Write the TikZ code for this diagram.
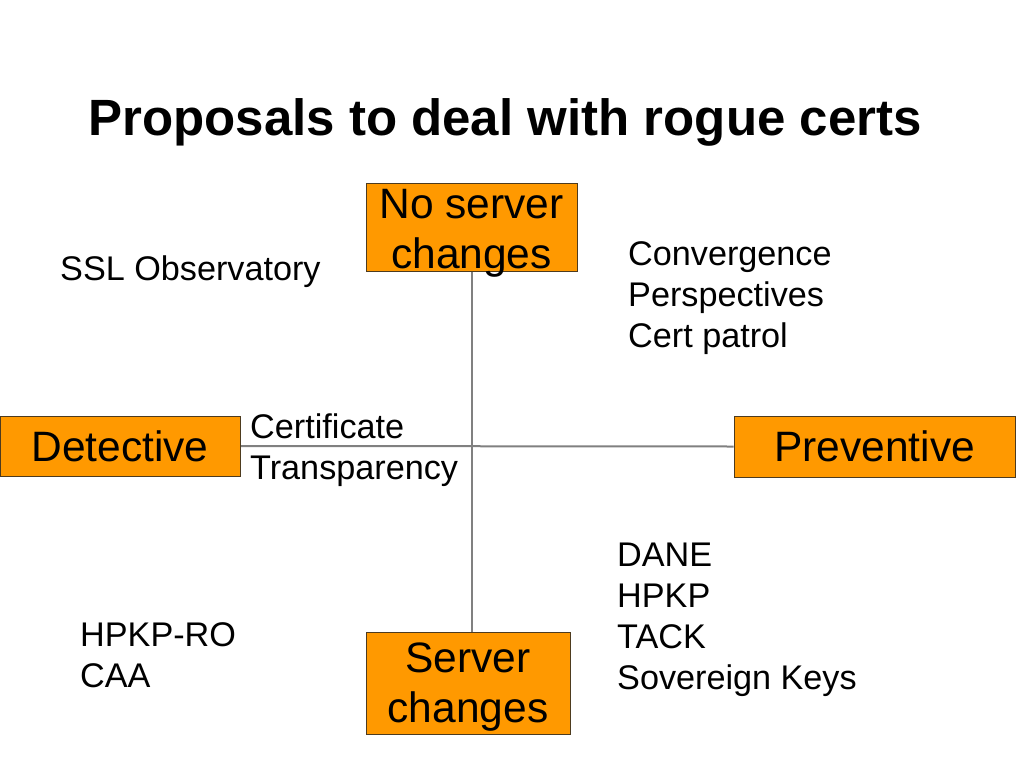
\documentclass[tikz,border=0pt]{standalone}
\usepackage{fontspec}
\setmainfont{Liberation Sans}
\usetikzlibrary{positioning,backgrounds}
\definecolor{boxorange}{HTML}{FF9900}
\definecolor{boxedge}{HTML}{4D3B1F}
\definecolor{axisgray}{HTML}{808080}

\begin{document}
\begin{tikzpicture}[x=1pt, y=-1pt,
  quad/.style={rectangle, draw=boxedge, line width=1pt, fill=boxorange, inner sep=0pt, align=center, font=\fontsize{42.5}{50}\selectfont},
  item/.style={anchor=base west, inner sep=0pt, align=left, font=\fontsize{34.2}{40.7}\selectfont},
  axis/.style={draw=axisgray, line width=2pt}
]
\useasboundingbox (0,0) rectangle (1024,768);
\node[font=\fontsize{51}{60}\selectfont\bfseries, anchor=base, inner sep=0pt] (title) at (505,135) {Proposals to deal with rogue certs};
% the four quadrant labels
\node[quad, minimum width=211pt, text height=85pt, text depth=3pt] (nsc) at (471.5,227) {No server\\changes};
\node[quad, minimum width=204pt, text height=90pt, text depth=12pt] (sc) at (468,683) {Server\\changes};
\node[quad, minimum width=240pt, minimum height=60pt] (det) at (120,446) {Detective};
\node[quad, minimum width=281pt, minimum height=61pt] (prev) at (874.5,446.5) {Preventive};
% axes
\begin{scope}[on background layer]
\draw[axis] (nsc.south) -- (nsc.south |- sc.north);
\draw[axis] (det.east) -- (prev.west);
\end{scope}
% proposals (base = last line)
\node[item] (ssl) at (60,280) {SSL Observatory};
\node[item] (conv) at (628,347) {Convergence\\Perspectives\\Cert patrol};
\node[item] (ct) at (250,479) {Certificate\\Transparency};
\node[item] (dane) at (617,689) {DANE\\HPKP\\TACK\\Sovereign Keys};
\node[item] (ro) at (80,687) {HPKP-RO\\CAA};
\end{tikzpicture}
\end{document}
